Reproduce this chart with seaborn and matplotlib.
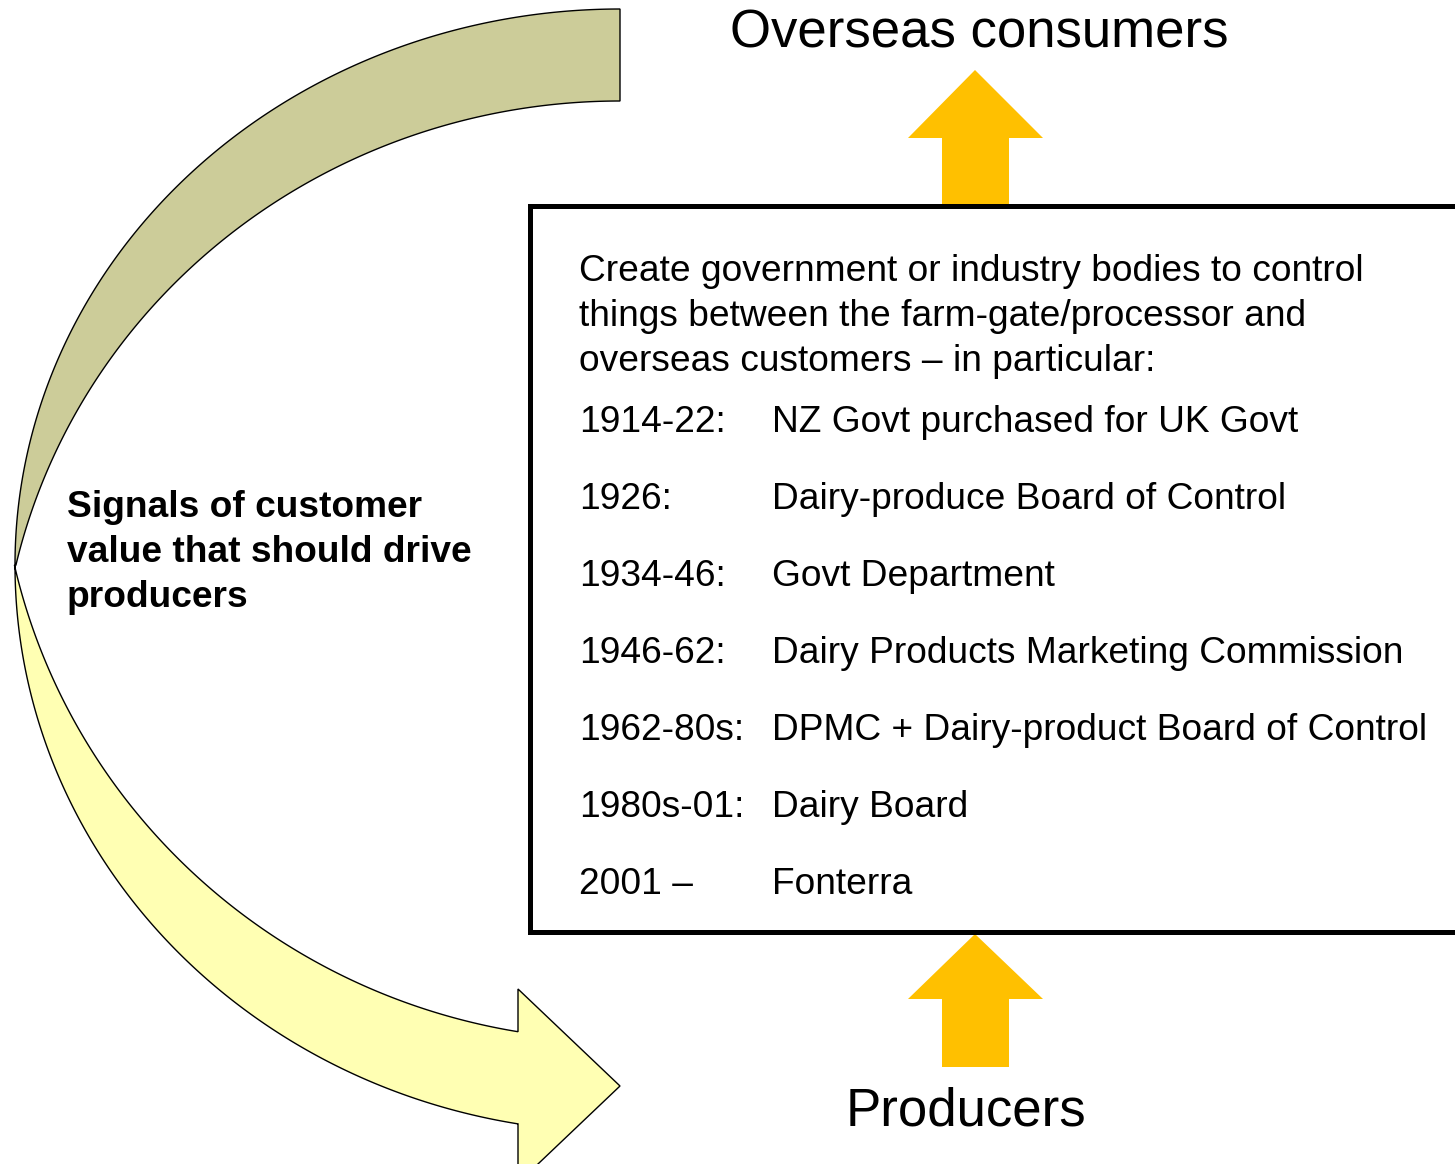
import numpy as np
import pandas as pd
import seaborn as sns
import matplotlib.pyplot as plt
from matplotlib.patches import Polygon, Rectangle

# text content of the diagram
top_label = "Overseas consumers"
bottom_label = "Producers"
side_lines = ["Signals of customer", "value that should drive", "producers"]
intro_lines = [
    "Create government or industry bodies to control",
    "things between the farm-gate/processor and",
    "overseas customers \u2013 in particular:",
]
years = ["1914-22:", "1926:", "1934-46:", "1946-62:", "1962-80s:", "1980s-01:", "2001 \u2013"]
bodies = [
    "NZ Govt purchased for UK Govt",
    "Dairy-produce Board of Control",
    "Govt Department",
    "Dairy Products Marketing Commission",
    "DPMC + Dairy-product Board of Control",
    "Dairy Board",
    "Fonterra",
]

timeline = pd.DataFrame({"year": years, "body": bodies})

OLIVE = "#CCCC99"
PALE = "#FFFFB3"
ORANGE = "#FFC000"

sns.set_theme(style="white")
plt.rcParams['font.family'] = ['Liberation Sans', 'DejaVu Sans']
plt.rcParams['text.color'] = 'black'

fig = plt.figure(figsize=(14.55, 11.64), dpi=100)
ax = fig.add_axes([0, 0, 1, 1])
ax.set_xlim(0, 1455)
ax.set_ylim(1164, 0)
ax.axis('off')


def arc(cx, cy, a, b, t0, t1, n=200):
    t = np.radians(np.linspace(t0, t1, n))
    return np.column_stack([cx + a * np.cos(t), cy - b * np.sin(t)])


# back half of the curved arrow (olive)
mid_y = 565
outer_top = arc(620, mid_y, 605, 556, 90, 180)
t_top = 180 - np.degrees(np.arcsin((700 - mid_y) / 599.0))
inner_top = arc(620, 700, 620, 599, t_top, 90)
ax.add_patch(Polygon(np.vstack([outer_top, inner_top]), closed=True,
                     facecolor=OLIVE, edgecolor='black', lw=1, zorder=2))

# front half with arrowhead (pale yellow)
t_b0 = 180 + np.degrees(np.arcsin((mid_y - 430) / 610.0))
t_b1 = 360 - np.degrees(np.arccos((518 - 620) / 621.0))
inner_bot = arc(620, 430, 621, 610, t_b0, t_b1)
t_out = np.degrees(np.arccos((518 - 620) / 605.0))
outer_bot = arc(620, mid_y, 605, 567, 360 - t_out, 180)
head = np.array([[518, 1031], [518, 989], [620, 1086], [518, 1183], [518, 1124]])
ax.add_patch(Polygon(np.vstack([inner_bot, head, outer_bot]), closed=True,
                     facecolor=PALE, edgecolor='black', lw=1, zorder=3))


def up_arrow(tip_y, base_y, bottom_y, xc=975):
    pts = [[xc, tip_y], [xc + 68, base_y], [xc + 34, base_y], [xc + 34, bottom_y],
           [xc - 33, bottom_y], [xc - 33, base_y], [xc - 67, base_y]]
    ax.add_patch(Polygon(pts, closed=True, facecolor=ORANGE, edgecolor='none', zorder=2))


up_arrow(70, 138, 206)
up_arrow(934, 999, 1067)

# the box
ax.add_patch(Rectangle((530, 206), 1000, 726, facecolor='white', edgecolor='black',
                       lw=3.6, zorder=3))

ax.text(979, 48, top_label, ha='center', va='baseline', fontsize=38, color='black')
ax.text(966, 1125, bottom_label, ha='center', va='baseline', fontsize=38, color='black')

for i, line in enumerate(side_lines):
    ax.text(67, 517 + 45 * i, line, ha='left', va='baseline', fontsize=26.7,
            fontweight='bold', color='black', zorder=5)

for i, line in enumerate(intro_lines):
    ax.text(579, 281 + 45 * i, line, ha='left', va='baseline', fontsize=26.7,
            color='black', zorder=5)

for i, row in timeline.iterrows():
    y = 432 + 77 * i
    ax.text(579, y, row['year'], ha='left', va='baseline', fontsize=26.7,
            color='black', zorder=5)
    ax.text(772, y, row['body'], ha='left', va='baseline', fontsize=26.7,
            color='black', zorder=5)

fig.savefig('out.png', dpi=100)
